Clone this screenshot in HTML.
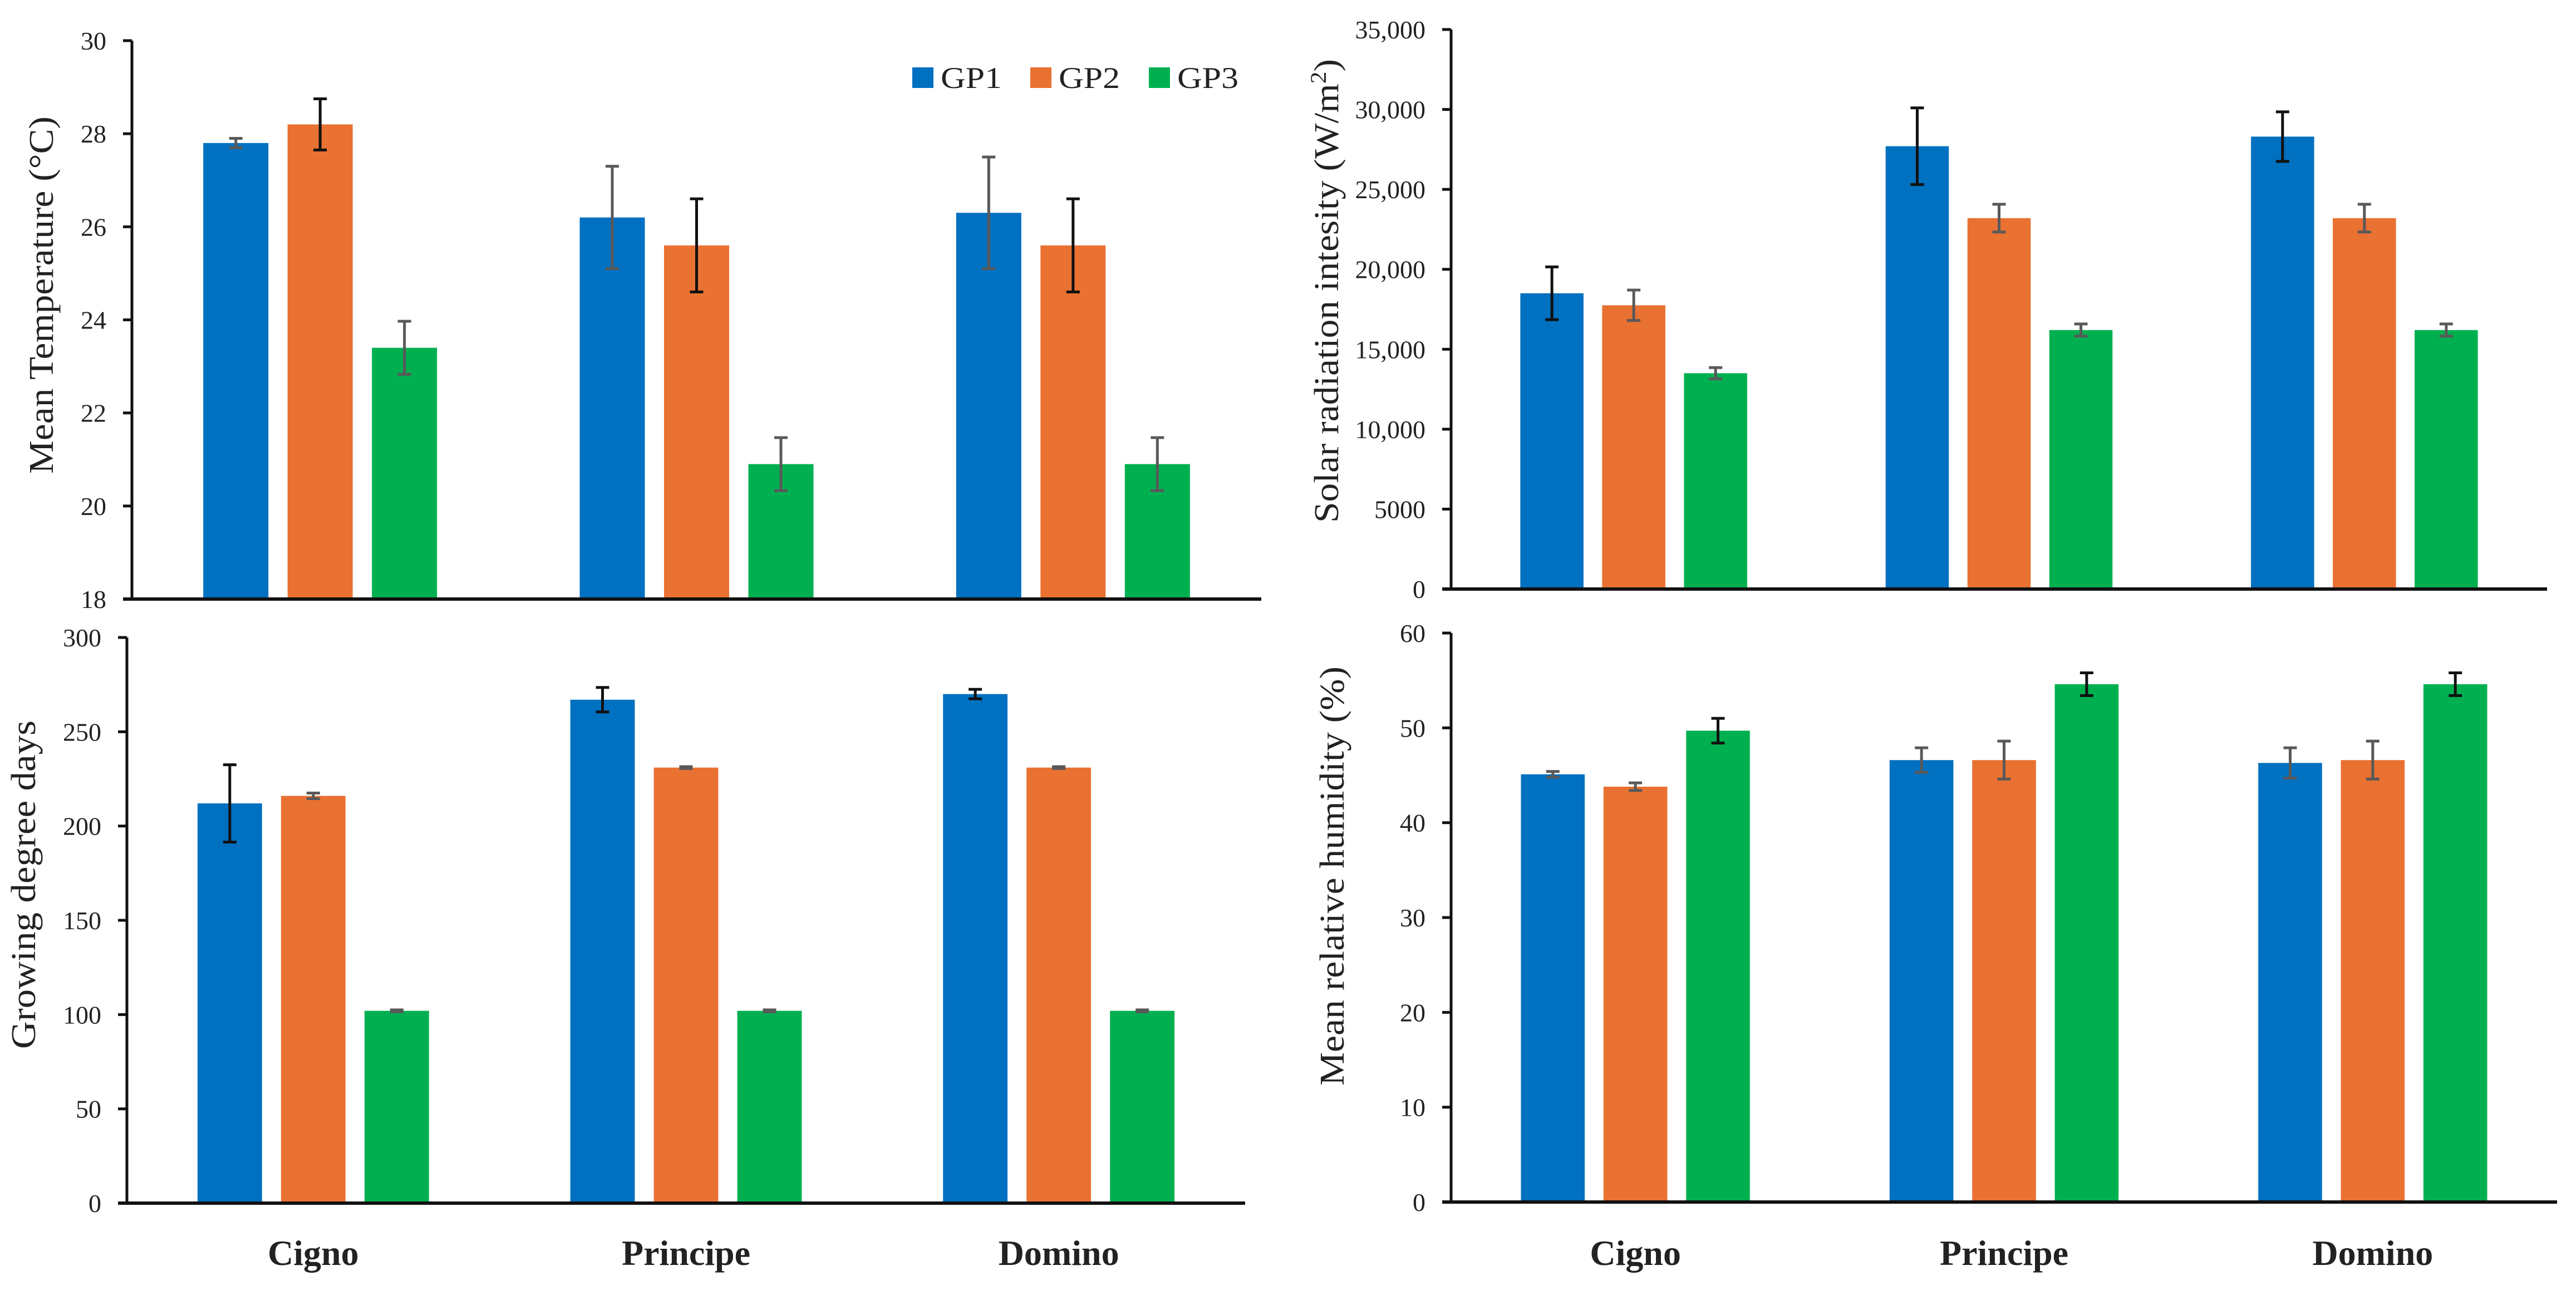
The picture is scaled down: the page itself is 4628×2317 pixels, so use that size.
<!DOCTYPE html>
<html><head><meta charset="utf-8"><style>
html,body{margin:0;padding:0;background:#fff;}
svg{display:block;}
text{font-family:"Liberation Serif",serif;fill:#222;}
</style></head><body>
<svg id="c" width="4628" height="2317" viewBox="0 0 4628 2317" xmlns="http://www.w3.org/2000/svg"></svg>
<script>
const categories = ["Cigno","Principe","Domino"];
const seriesNames = ["GP1","GP2","GP3"];
const seriesColors = ["#0070C0","#E97132","#00B050"];

const tempValues = [[27.8,26.2,26.3],[28.2,25.6,25.6],[23.4,20.9,20.9]];
const tempErrors = [[0.1,1.1,1.2],[0.55,1.0,1.0],[0.57,0.57,0.57]];
const tempTicks = [18,20,22,24,26,28,30];
const tempTickLabels = ["18","20","22","24","26","28","30"];

const solarValues = [[18500,27700,28300],[17750,23200,23200],[13500,16200,16200]];
const solarErrors = [[1650,2400,1550],[950,870,870],[350,380,380]];
const solarTicks = [0,5000,10000,15000,20000,25000,30000,35000];
const solarTickLabels = ["0","5000","10,000","15,000","20,000","25,000","30,000","35,000"];

const gddValues = [[212,267,270],[216,231,231],[102,102,102]];
const gddErrors = [[20.5,6.5,2.5],[1.5,0.5,0.5],[0.5,0.5,0.5]];
const gddTicks = [0,50,100,150,200,250,300];
const gddTickLabels = ["0","50","100","150","200","250","300"];

const humValues = [[45.1,46.6,46.3],[43.8,46.6,46.6],[49.7,54.6,54.6]];
const humErrors = [[0.3,1.3,1.6],[0.4,2.0,2.0],[1.3,1.2,1.2]];
const humTicks = [0,10,20,30,40,50,60];
const humTickLabels = ["0","10","20","30","40","50","60"];

const NS="http://www.w3.org/2000/svg";
const svg=document.getElementById('c');
function mk(tag,attrs,parent){const e=document.createElementNS(NS,tag);for(const k in attrs)e.setAttribute(k,attrs[k]);(parent||svg).appendChild(e);return e;}

function panel(p){
  const g=mk('g',{});
  
  
  const y=v=>p.y0+(v-p.min)/(p.max-p.min)*(p.y1-p.y0);
  const cw=(p.xEnd-p.x0)/3;
  const bw=cw*0.173, pitch=cw*0.224;
  // bars
  for(let s=0;s<3;s++){
    for(let c=0;c<3;c++){
      const cx=p.x0+cw*(c+0.5)+(s-1)*pitch;
      const v=p.values[s][c];
      const r=mk('rect',{x:cx-bw/2,y:y(v),width:bw,height:y(p.min)-y(v),fill:seriesColors[s]},g);
      
      
      const e=p.errors[s][c];
      const col=p.errColors[s];
      const eg=mk('g',{stroke:col,'stroke-width':5},g);
      
      
      mk('line',{x1:cx,x2:cx,y1:y(v+e),y2:y(v-e)},eg);
      mk('line',{x1:cx-12,x2:cx+12,y1:y(v+e),y2:y(v+e)},eg);
      mk('line',{x1:cx-12,x2:cx+12,y1:y(v-e),y2:y(v-e)},eg);
    }
  }
  // axes
  const ya=mk('line',{x1:p.x0,x2:p.x0,y1:p.y1,y2:p.y0+2,stroke:'#111','stroke-width':5},g);
  
  
  const xa=mk('line',{x1:p.x0-16,x2:p.xEnd,y1:p.y0,y2:p.y0,stroke:'#111','stroke-width':6},g);
  
  
  p.ticks.forEach((t,i)=>{
    mk('line',{x1:p.x0-16,x2:p.x0,y1:y(t),y2:y(t),stroke:'#111','stroke-width':5},g);
    const tx=mk('text',{x:p.x0-46,y:y(t)+16,'text-anchor':'end','font-size':46},g);
    tx.textContent=p.tickLabels[i];
    
    
  });
  const yc=(p.titleTop+p.titleBottom)/2;
  const tt=mk('text',{x:0,y:0,'text-anchor':'middle','font-size':62,transform:`translate(${p.titleX},${yc}) rotate(-90)`,textLength:p.titleBottom-p.titleTop,lengthAdjust:'spacingAndGlyphs'},g);
  tt.innerHTML=p.title;
  
  
  if(p.catLabels){
    categories.forEach((c,i)=>{
      const t=mk('text',{x:p.x0+cw*(i+0.5),y:2272,'text-anchor':'middle','font-size':64,'font-weight':'bold'},g);
      t.textContent=c;
      
      
    });
  }
}

panel({name:'mean-temperature-panel',x0:237,xEnd:2266,y0:1076,y1:73,min:18,max:30,values:tempValues,errors:tempErrors,ticks:tempTicks,tickLabels:tempTickLabels,errColors:['#595959','#111','#595959'],title:'Mean Temperature (°C)',titleX:95,titleTop:209,titleBottom:851});
panel({name:'solar-radiation-panel',x0:2607,xEnd:4576,y0:1058,y1:53,min:0,max:35000,values:solarValues,errors:solarErrors,ticks:solarTicks,tickLabels:solarTickLabels,errColors:['#111','#595959','#595959'],title:'Solar radiation intesity (W/m<tspan font-size="40" dy="-22">2</tspan><tspan dy="22">)</tspan>',titleX:2404,titleTop:106,titleBottom:939});
panel({name:'growing-degree-days-panel',x0:228,xEnd:2237,y0:2161,y1:1145,min:0,max:300,values:gddValues,errors:gddErrors,ticks:gddTicks,tickLabels:gddTickLabels,errColors:['#111','#595959','#595959'],title:'Growing degree days',titleX:63,titleTop:1294,titleBottom:1884,catLabels:true});
panel({name:'relative-humidity-panel',x0:2607,xEnd:4594,y0:2159,y1:1137,min:0,max:60,values:humValues,errors:humErrors,ticks:humTicks,tickLabels:humTickLabels,errColors:['#595959','#595959','#111'],title:'Mean relative humidity  (%)',titleX:2414,titleTop:1197,titleBottom:1950,catLabels:true});

// legend
const lg=mk('g',{});


const legX=[1639,1851,2064];
seriesNames.forEach((n,i)=>{
  const eg=mk('g',{},lg);
  
  
  mk('rect',{x:legX[i],y:121,width:38,height:37,fill:seriesColors[i]},eg);
  const t=mk('text',{x:legX[i]+51,y:158,'font-size':54,textLength:110,lengthAdjust:'spacingAndGlyphs'},eg);
  t.textContent=n;
});
</script>
</body></html>
